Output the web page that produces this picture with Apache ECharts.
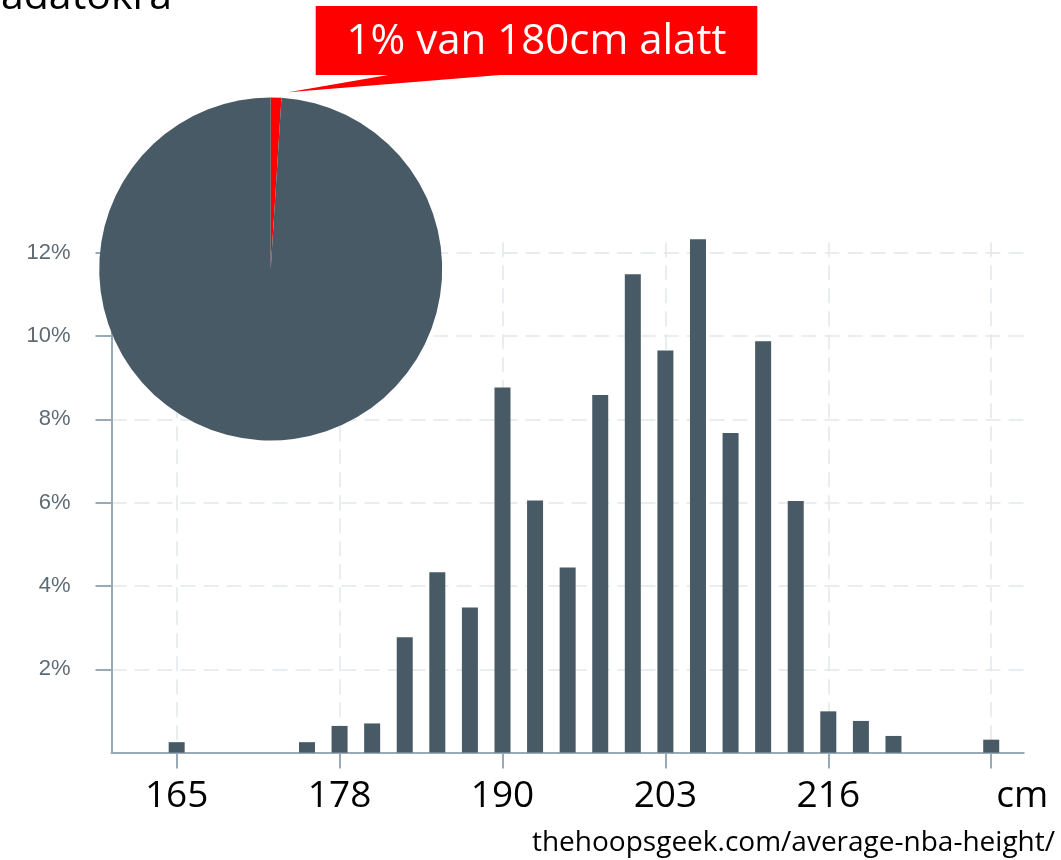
<!DOCTYPE html>
<html>
<head>
<meta charset="utf-8">
<script src="https://cdn.jsdelivr.net/npm/echarts@6/dist/echarts.min.js"></script>
<style>
  html, body { margin: 0; padding: 0; background: #ffffff; }
  #chart { width: 1061px; height: 860px; }
</style>
</head>
<body>
<div id="chart"></div>
<script>
// Player heights in whole inches (one bar per inch), share of players in %
const heightInches = [63, 64, 65, 66, 67, 68, 69, 70, 71, 72, 73, 74, 75, 76, 77,
                      78, 79, 80, 81, 82, 83, 84, 85, 86, 87, 88, 89, 90, 91];
const sharePct = [null, null, 0.25, null, null, null, 0.25, 0.64, 0.70, 2.77, 4.33, 3.48, 8.76, 6.05, 4.44,
                  8.58, 11.48, 9.65, 12.32, 7.67, 9.87, 6.04, 0.99, 0.76, 0.40, null, null, 0.31, null];

// Labelled ticks every 5 inches, shown in centimetres
const tickInches = [65, 70, 75, 80, 85, 90];
const tickLabels = ['165', '178', '190', '203', '216', 'cm'];

// Percentage ticks on the value axis
const pctTicks = [2, 4, 6, 8, 10, 12];

// Players below / above 180 cm
const pieNames = ['180cm alatt', '180cm felett'];
const pieValues = [1, 99];

const slate = '#475a66';
const axisGrey = '#98aab8';
const gridGrey = '#e4e8ec';

const isTick = (idx, val) => tickInches.indexOf(Number(val)) !== -1;

const chart = echarts.init(document.getElementById('chart'), null, { renderer: 'canvas' });

chart.setOption({
  animation: false,
  backgroundColor: '#ffffff',
  grid: { left: 111.5, right: 37.2, top: 242.2, bottom: 107.4, containLabel: false },
  xAxis: {
    type: 'category',
    data: heightInches.map(String),
    boundaryGap: false,
    axisLine: { show: true, lineStyle: { color: axisGrey, width: 2 } },
    axisTick: { show: true, interval: isTick, length: 16, lineStyle: { color: axisGrey, width: 2 } },
    axisLabel: {
      interval: isTick,
      margin: 25,
      color: '#000000',
      fontFamily: 'Open Sans',
      fontSize: 37,
      formatter: function (val) {
        const i = tickInches.indexOf(Number(val));
        if (i === -1) return '';
        const t = tickLabels[i];
        return t === 'cm' ? '{unit|' + t + '}' : t;
      },
      rich: {
        unit: { fontFamily: 'Open Sans', fontSize: 37, color: '#000000', padding: [0, 0, 0, 62] }
      }
    },
    splitLine: {
      show: true,
      interval: isTick,
      lineStyle: { color: gridGrey, width: 1.5, type: [15, 8] }
    }
  },
  yAxis: {
    type: 'value',
    min: 0,
    max: 12.25,
    axisLine: { show: true, lineStyle: { color: axisGrey, width: 2 } },
    axisTick: {
      show: true,
      inside: false,
      customValues: pctTicks,
      length: 16,
      lineStyle: { color: axisGrey, width: 2 }
    },
    axisLabel: {
      customValues: pctTicks,
      margin: 41,
      color: '#5f6b74',
      fontFamily: 'Liberation Sans',
      fontSize: 22,
      formatter: function (v) { return v + '%'; }
    },
    splitLine: {
      show: true,
      lineStyle: { color: gridGrey, width: 1.5, type: [15, 8] }
    }
  },
  series: [
    {
      type: 'bar',
      data: sharePct,
      barWidth: 16,
      clip: false,
      itemStyle: { color: slate }
    },
    {
      type: 'pie',
      center: [270.7, 269],
      radius: [0, 171.5],
      startAngle: 90,
      clockwise: true,
      label: { show: false },
      labelLine: { show: false },
      emphasis: { disabled: true },
      data: pieNames.map((n, i) => ({
        name: n,
        value: pieValues[i],
        itemStyle: { color: i === 0 ? '#ff0000' : slate, borderWidth: 0 }
      }))
    }
  ],
  graphic: [
    {
      type: 'polygon',
      z: 10,
      shape: {
        points: [[315.7, 6], [757.3, 6], [757.3, 75], [500, 75], [288.3, 92.3], [388, 75], [315.7, 75]]
      },
      style: { fill: '#ff0000' }
    },
    {
      type: 'text',
      z: 11,
      x: 536.5,
      y: 42,
      style: {
        text: pieValues[0] + '% van 180cm alatt',
        font: '42px "Open Sans"',
        fill: '#ffffff',
        align: 'center',
        verticalAlign: 'middle'
      }
    },
    {
      type: 'text',
      z: 11,
      x: 172,
      y: -3,
      style: {
        text: 'adatokra',
        font: '41px "Open Sans"',
        fill: '#000000',
        align: 'right',
        verticalAlign: 'middle'
      }
    },
    {
      type: 'text',
      z: 11,
      x: 1055,
      y: 843,
      style: {
        text: 'thehoopsgeek.com/average-nba-height/',
        font: '28px "Open Sans"',
        fill: '#000000',
        align: 'right',
        verticalAlign: 'middle'
      }
    }
  ]
});
</script>
</body>
</html>
